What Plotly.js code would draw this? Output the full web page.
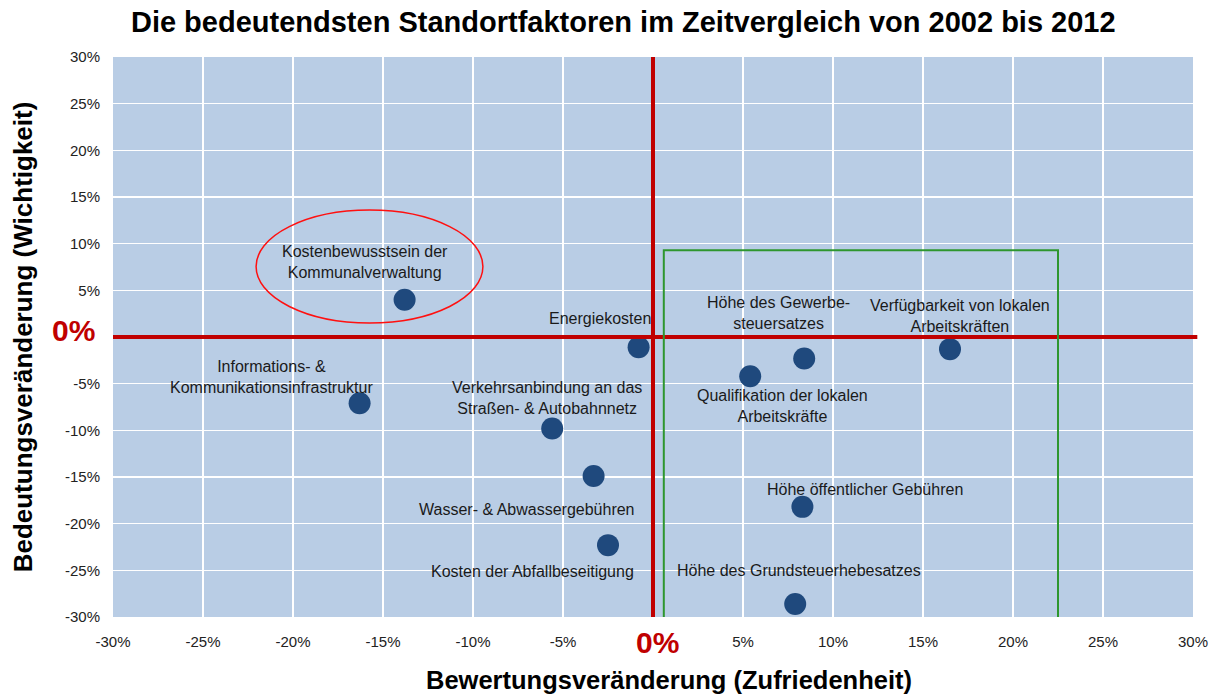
<!DOCTYPE html>
<html>
<head>
<meta charset="utf-8">
<script src="https://cdn.plot.ly/plotly-3.0.1.min.js"></script>
<style>html,body{margin:0;padding:0;background:#fff;}#chart{width:1215px;height:695px;}</style>
</head>
<body>
<div id="chart"></div>
<script>
// ---- data ----
var factors = [
  "Kostenbewusstsein der<br>Kommunalverwaltung",
  "Informations- &<br>Kommunikationsinfrastruktur",
  "Energiekosten",
  "Verkehrsanbindung an das<br>Straßen- & Autobahnnetz",
  "Wasser- & Abwassergebühren",
  "Kosten der Abfallbeseitigung",
  "Qualifikation der lokalen<br>Arbeitskräfte",
  "Höhe des Gewerbe-<br>steuersatzes",
  "Verfügbarkeit von lokalen<br>Arbeitskräften",
  "Höhe öffentlicher Gebühren",
  "Höhe des Grundsteuerhebesatzes"
];
var bewertung = [-13.8, -16.3, -0.8, -5.6, -3.3, -2.5, 5.4, 8.4, 16.5, 8.3, 7.9];   // x, %
var bedeutung = [4.0, -7.1, -1.1, -9.8, -14.9, -22.3, -4.2, -2.3, -1.3, -18.2, -28.6]; // y, %
var tickValues = [-30, -25, -20, -15, -10, -5, 5, 10, 15, 20, 25, 30];
var tickLabels = ["-30%", "-25%", "-20%", "-15%", "-10%", "-5%", "5%", "10%", "15%", "20%", "25%", "30%"];

// ---- label placement (pixels) ----
var labelShiftX = [-40, -88, 14, -5, -67, -76, 32, -26, 10, 63, 4];
var labelShiftY = [38, 26, 29, 30, -33, -26, -30, 45, 33, 17, 33];
var labelAnchor = ["center","center","right","center","center","center","center","center","center","center","center"];

var FONT = "Liberation Sans, Arial, sans-serif";

var annotations = factors.map(function (t, i) {
  return {
    x: bewertung[i], y: bedeutung[i], xref: "x", yref: "y",
    text: t, showarrow: false,
    xanchor: labelAnchor[i], yanchor: "middle",
    xshift: labelShiftX[i], yshift: labelShiftY[i],
    font: {family: FONT, size: 16, color: "#1a1a1a"}
  };
});
annotations.push({
  xref: "paper", yref: "y", x: -0.0148, y: 0.7, xanchor: "right", yanchor: "middle",
  text: "<b>0%</b>", showarrow: false, font: {family: FONT, size: 30, color: "#C00000"}
});
annotations.push({
  xref: "x", yref: "paper", x: 0.25, y: -0.0464, xanchor: "center", yanchor: "middle",
  text: "<b>0%</b>", showarrow: false, font: {family: FONT, size: 30, color: "#C00000"}
});
annotations.push({
  xref: "paper", yref: "paper", x: 0.515, y: -0.1125, xanchor: "center", yanchor: "middle",
  text: "<b>Bewertungsveränderung (Zufriedenheit)</b>", showarrow: false,
  font: {family: FONT, size: 25.5, color: "#000"}
});

var trace = {
  type: "scatter", mode: "markers",
  x: bewertung, y: bedeutung,
  marker: {size: 22, color: "#1F497D"},
  hoverinfo: "skip", cliponaxis: false
};

var layout = {
  width: 1215, height: 695,
  margin: {l: 113, r: 22, t: 57, b: 78},
  paper_bgcolor: "#ffffff",
  plot_bgcolor: "#B9CDE5",
  showlegend: false,
  font: {family: FONT, color: "#1a1a1a"},
  title: {
    text: "<b>Die bedeutendsten Standortfaktoren im Zeitvergleich von 2002 bis 2012</b>",
    x: 0.513, xanchor: "center", y: 0.968, yanchor: "middle",
    font: {family: FONT, size: 29, color: "#000"}
  },
  xaxis: {
    range: [-30, 30], tickvals: tickValues, ticktext: tickLabels,
    showgrid: true, gridcolor: "#ffffff", gridwidth: 1.5, zeroline: false,
    ticks: "", ticklen: 0, ticklabelstandoff: 14,
    tickfont: {family: FONT, size: 15, color: "#222"},
    showline: false, fixedrange: true
  },
  yaxis: {
    range: [-30, 30], tickvals: tickValues, ticktext: tickLabels,
    showgrid: true, gridcolor: "#ffffff", gridwidth: 1.5, zeroline: false,
    ticks: "", ticklabelstandoff: 12,
    tickfont: {family: FONT, size: 15, color: "#222"},
    showline: false, fixedrange: true,
    title: {text: "<b>Bedeutungsveränderung (Wichtigkeit)</b>", standoff: 24,
            font: {family: FONT, size: 26, color: "#000"}}
  },
  shapes: [
    {type: "line", xref: "paper", yref: "y", x0: 0, x1: 1.004, y0: 0, y1: 0,
     line: {color: "#C00000", width: 4}, layer: "above"},
    {type: "line", xref: "x", yref: "paper", x0: 0, x1: 0, y0: 0, y1: 1,
     line: {color: "#C00000", width: 4}, layer: "above"},
    {type: "rect", xref: "x", yref: "y", x0: 0.6, x1: 22.5, y0: -30.3, y1: 9.3,
     line: {color: "#2E962E", width: 2}, fillcolor: "rgba(0,0,0,0)", layer: "above"},
    {type: "circle", xref: "x", yref: "y", x0: -22.05, x1: -9.45, y0: 1.5, y1: 13.6,
     line: {color: "#FF1010", width: 1.5}, fillcolor: "rgba(0,0,0,0)", layer: "above"}
  ],
  annotations: annotations
};

Plotly.newPlot("chart", [trace], layout, {displayModeBar: false, staticPlot: true});
</script>
</body>
</html>
